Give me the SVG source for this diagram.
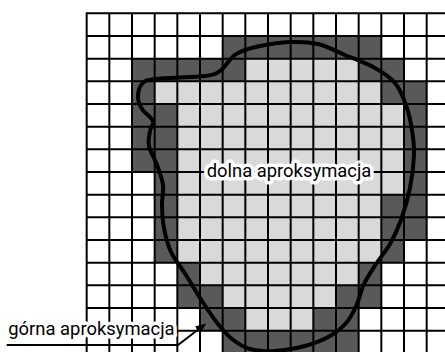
<svg xmlns="http://www.w3.org/2000/svg" width="445" height="352" viewBox="0 0 445 352">
<style>
.d{fill:#595959}
.l{fill:#d9d9d9}
.grid{fill:none;stroke:#000;stroke-width:2;stroke-linecap:square}
.curve{fill:none;stroke:#000;stroke-width:4;stroke-linejoin:round}
.lbl{font-family:Roboto,"Liberation Sans",sans-serif;font-size:18.4px;fill:#000;stroke:#fff;stroke-width:7;stroke-linejoin:round;paint-order:stroke}
.lead{fill:none;stroke:#000;stroke-width:2}
</style>
<defs>
<marker id="ah" viewBox="0 0 11 9" refX="0.5" refY="4.5" markerWidth="11" markerHeight="9" markerUnits="userSpaceOnUse" orient="auto"><path d="M0,0 L11,4.5 L0,9 z" fill="#000"/></marker>
</defs>
<rect width="445" height="352" fill="#fff"/>
<g id="cells" transform="translate(86.667 13.333) scale(22.667)">
<rect class="d" x="6" y="1" width="7" height="1"/>
<rect class="d" x="2" y="2" width="5" height="1"/><rect class="l" x="7" y="2" width="5" height="1"/><rect class="d" x="12" y="2" width="2" height="1"/>
<rect class="d" x="2" y="3" width="1" height="1"/><rect class="l" x="3" y="3" width="10" height="1"/><rect class="d" x="13" y="3" width="2" height="1"/>
<rect class="d" x="2" y="4" width="2" height="3"/><rect class="l" x="4" y="4" width="10" height="3"/><rect class="d" x="14" y="4" width="1" height="3"/>
<rect class="d" x="3" y="7" width="1" height="1"/><rect class="l" x="4" y="7" width="10" height="1"/><rect class="d" x="14" y="7" width="1" height="1"/>
<rect class="d" x="3" y="8" width="1" height="2"/><rect class="l" x="4" y="8" width="9" height="2"/><rect class="d" x="13" y="8" width="2" height="2"/>
<rect class="d" x="3" y="10" width="1" height="1"/><rect class="l" x="4" y="10" width="9" height="1"/><rect class="d" x="13" y="10" width="1" height="1"/>
<rect class="d" x="4" y="11" width="1" height="1"/><rect class="l" x="5" y="11" width="7" height="1"/><rect class="d" x="12" y="11" width="1" height="1"/>
<rect class="d" x="4" y="12" width="2" height="1"/><rect class="l" x="6" y="12" width="5" height="1"/><rect class="d" x="11" y="12" width="2" height="1"/>
<rect class="d" x="5" y="13" width="2" height="1"/><rect class="l" x="7" y="13" width="3" height="1"/><rect class="d" x="10" y="13" width="2" height="1"/>
<rect class="d" x="6" y="14" width="6" height="1"/>
</g>
<path id="gridlines" class="grid" d="M86.67,13.33V354 M109.33,13.33V354 M132,13.33V354 M154.67,13.33V354 M177.33,13.33V354 M200,13.33V354 M222.67,13.33V354 M245.33,13.33V354 M268,13.33V354 M290.67,13.33V354 M313.33,13.33V354 M336,13.33V354 M358.67,13.33V354 M381.33,13.33V354 M404,13.33V354 M426.67,13.33V354 M86.67,13.33H446 M86.67,36H446 M86.67,58.67H446 M86.67,81.33H446 M86.67,104H446 M86.67,126.67H446 M86.67,149.33H446 M86.67,172H446 M86.67,194.67H446 M86.67,217.33H446 M86.67,240H446 M86.67,262.67H446 M86.67,285.33H446 M86.67,308H446 M86.67,330.67H446"/>
<path id="region" class="curve" d="M260,46 C268.67,44.17 280.33,42.33 290,42 C299.67,41.67 308.83,41.83 318,44 C327.17,46.17 335.5,51 345,55 C354.5,59 366.67,63.33 375,68 C383.33,72.67 389.83,76.83 395,83 C400.17,89.17 403.17,97.17 406,105 C408.83,112.83 410.67,121.67 412,130 C413.33,138.33 414.33,145.33 414,155 C413.67,164.67 412.17,177.17 410,188 C407.83,198.83 404.33,210.67 401,220 C397.67,229.33 394.17,236.67 390,244 C385.83,251.33 380.33,257.33 376,264 C371.67,270.67 367.17,277.33 364,284 C360.83,290.67 359.83,297.67 357,304 C354.17,310.33 351.5,316.67 347,322 C342.5,327.33 337,332 330,336 C323,340 314.17,343.5 305,346 C295.83,348.5 284.17,350.5 275,351 C265.83,351.5 257.17,351 250,349 C242.83,347 237.33,343.17 232,339 C226.67,334.83 223,330.33 218,324 C213,317.67 207.33,309.17 202,301 C196.67,292.83 191.17,283.17 186,275 C180.83,266.83 174.67,259.83 171,252 C167.33,244.17 165.5,235.83 164,228 C162.5,220.17 162.17,212.17 162,205 C161.83,197.83 163.83,191.67 163,185 C162.17,178.33 159.33,171.5 157,165 C154.67,158.5 150.17,151.67 149,146 C147.83,140.33 149.33,135.17 150,131 C150.67,126.83 154.33,124.67 153,121 C151.67,117.33 144.5,113 142,109 C139.5,105 138,101.17 138,97 C138,92.83 139.17,87 142,84 C144.83,81 144.5,80.33 155,79 C165.5,77.67 194.17,77.33 205,76 C215.83,74.67 216,73.5 220,71 C224,68.5 226,64 229,61 C232,58 232.83,55.5 238,53 C243.17,50.5 251.33,47.83 260,46 Z"/>
<g id="label-dolna"><text class="lbl" x="206.7" y="176.8">dolna aproksymacja</text></g>
<g id="label-gorna"><text class="lbl" x="8.3" y="334.5">górna aproksymacja</text></g>
<g id="connectors">
<polyline class="lead" points="6.7,345 178,345 197.9,329.8" marker-end="url(#ah)"/>
</g>
</svg>
